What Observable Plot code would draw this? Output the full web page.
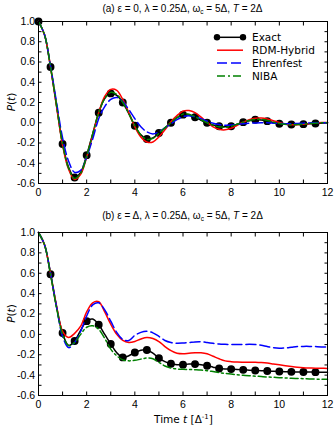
<!DOCTYPE html>
<html><head><meta charset="utf-8">
<script src="https://cdn.jsdelivr.net/npm/d3@7"></script>
<script src="https://cdn.jsdelivr.net/npm/@observablehq/plot@0.6"></script>
<style>
body{margin:0;background:#fff;}
#chart{position:relative;width:334px;height:426px;overflow:hidden;}
#chart svg{display:block;overflow:visible;}
</style></head><body><div id="chart"></div>
<script>
// time grid (Δ^-1)
const tGrid = [0,0.25,0.5,0.75,1,1.25,1.5,1.75,2,2.25,2.5,2.75,3,3.25,3.5,3.75,4,4.25,4.5,4.75,5,5.25,5.5,5.75,6,6.25,6.5,6.75,7,7.25,7.5,7.75,8,8.25,8.5,8.75,9,9.25,9.5,9.75,10,10.25,10.5,10.75,11,11.25,11.5,11.75,12];

// panel (a)
const exactA = [1,0.87,0.55,0.17,-0.21,-0.44,-0.54,-0.49,-0.32,-0.11,0.10,0.24,0.29,0.27,0.20,0.09,-0.03,-0.12,-0.16,-0.15,-0.10,-0.05,0.0,0.05,0.08,0.075,0.055,0.025,0.0,-0.022,-0.035,-0.04,-0.035,-0.015,0.006,0.02,0.03,0.028,0.016,0.003,-0.01,-0.015,-0.017,-0.016,-0.014,-0.01,-0.007,-0.004,-0.002];
const rdmA = [1,0.87,0.55,0.16,-0.22,-0.46,-0.56,-0.51,-0.34,-0.12,0.10,0.26,0.33,0.32,0.23,0.10,-0.04,-0.14,-0.19,-0.19,-0.14,-0.07,0.01,0.07,0.115,0.12,0.10,0.055,0.005,-0.04,-0.065,-0.07,-0.055,-0.025,0.005,0.03,0.045,0.047,0.038,0.02,0.002,-0.013,-0.02,-0.02,-0.015,-0.008,-0.002,0.002,0.003];
const ehrA = [1,0.87,0.56,0.20,-0.15,-0.38,-0.49,-0.47,-0.34,-0.16,0.04,0.16,0.23,0.25,0.21,0.13,0.04,-0.04,-0.09,-0.11,-0.09,-0.05,-0.01,0.03,0.06,0.07,0.06,0.04,0.015,-0.005,-0.018,-0.024,-0.022,-0.016,-0.01,-0.005,-0.002,0.0,-0.001,-0.004,-0.007,-0.009,-0.009,-0.007,-0.004,-0.002,0.0,0.001,0.001];
const nibaA = [1,0.87,0.55,0.17,-0.21,-0.45,-0.55,-0.50,-0.33,-0.11,0.10,0.24,0.30,0.28,0.20,0.09,-0.03,-0.12,-0.165,-0.155,-0.105,-0.05,0.0,0.05,0.085,0.085,0.06,0.03,0.0,-0.025,-0.04,-0.045,-0.035,-0.015,0.006,0.022,0.033,0.033,0.022,0.006,-0.008,-0.016,-0.02,-0.018,-0.013,-0.008,-0.004,-0.001,0.0];
const markersA = [0,0.5,1,1.5,2,2.5,3,3.5,4,4.5,5,5.5,6,6.5,7,7.5,8,8.5,9,9.5,10,10.5,11,11.5];

// panel (b)
const exactB = [1,0.88,0.59,0.27,0.013,-0.11,-0.065,0.04,0.13,0.15,0.095,0.0,-0.095,-0.18,-0.226,-0.21,-0.178,-0.155,-0.154,-0.185,-0.233,-0.268,-0.289,-0.297,-0.297,-0.292,-0.292,-0.298,-0.308,-0.322,-0.335,-0.34,-0.341,-0.344,-0.348,-0.351,-0.354,-0.357,-0.36,-0.362,-0.364,-0.366,-0.368,-0.369,-0.37,-0.37,-0.371,-0.371,-0.372];
const rdmB = [1,0.88,0.60,0.28,0.03,-0.03,0.01,0.08,0.22,0.31,0.32,0.22,0.10,0.0,-0.06,-0.08,-0.07,-0.045,-0.03,-0.04,-0.07,-0.12,-0.16,-0.185,-0.19,-0.185,-0.18,-0.18,-0.19,-0.215,-0.24,-0.26,-0.268,-0.272,-0.273,-0.273,-0.274,-0.277,-0.282,-0.29,-0.298,-0.307,-0.315,-0.322,-0.327,-0.33,-0.332,-0.333,-0.334];
const ehrB = [1,0.88,0.60,0.27,-0.02,-0.13,-0.08,0.03,0.18,0.29,0.31,0.24,0.13,0.02,-0.05,-0.06,-0.01,0.02,0.03,0.015,-0.02,-0.06,-0.08,-0.087,-0.085,-0.08,-0.074,-0.073,-0.08,-0.088,-0.095,-0.098,-0.1,-0.1,-0.1,-0.098,-0.1,-0.107,-0.12,-0.13,-0.135,-0.134,-0.127,-0.12,-0.118,-0.118,-0.12,-0.123,-0.125];
const nibaB = [1,0.88,0.59,0.26,0.0,-0.11,-0.08,0.0,0.07,0.085,0.05,-0.04,-0.145,-0.21,-0.25,-0.26,-0.255,-0.243,-0.232,-0.24,-0.275,-0.31,-0.33,-0.34,-0.343,-0.345,-0.347,-0.35,-0.356,-0.365,-0.375,-0.383,-0.39,-0.396,-0.401,-0.406,-0.41,-0.414,-0.418,-0.421,-0.425,-0.428,-0.431,-0.433,-0.435,-0.437,-0.439,-0.44,-0.441];
const markersB = [0.5,1,1.5,2,2.5,3,3.5,4,4.5,5,5.5,6,6.5,7,7.5,8,8.5,9,9.5,10,10.5,11,11.5];

// axes ticks
const xTicks = [0,1,2,3,4,5,6,7,8,9,10,11,12];
const xTickLabels = ["0","","2","","4","","6","","8","","10","","12"];
const yTicks = [-0.6,-0.5,-0.4,-0.3,-0.2,-0.1,0,0.1,0.2,0.3,0.4,0.5,0.6,0.7,0.8,0.9,1.0];
const yTickLabels = ["-0.6","","-0.4","","-0.2","","0.0","","0.2","","0.4","","0.6","","0.8","","1.0"];

// legend
const legendNames = ["Exact","RDM-Hybrid","Ehrenfest","NIBA"];
const colors = ["#000000","#ff0000","#0000ff","#008000"];
const dashes = [null,null,"10,4","8,3,2,3"];

const xFmt = new Map(xTicks.map((v,i)=>[v,xTickLabels[i]]));
const yFmt = new Map(yTicks.map((v,i)=>[v,yTickLabels[i]]));
const SANS = "DejaVu Sans";
const TFONT = "Liberation Sans";

function rows(vals){ return tGrid.map((t,i)=>({t, p: vals[i]})); }

function panel({series, markers, height, marginTop, marginBottom}) {
  const ex = rows(series[0]);
  const pts = ex.filter(d => markers.includes(d.t));
  const lineMarks = series.slice(1).map((s,k) => Plot.line(rows(s), {
    x:"t", y:"p", stroke: colors[k+1], strokeWidth: 1.5, strokeDasharray: dashes[k+1], curve:"catmull-rom"
  }));
  return Plot.plot({
    width: 334, height, marginLeft: 38, marginRight: 7, marginTop, marginBottom,
    style: {fontFamily: TFONT, fontSize: "10.5px", color: "black", background: "white", overflow: "visible"},
    x: {domain: [0,12]},
    y: {domain: [-0.6, 1.0]},
    marks: [
      Plot.axisX({anchor:"bottom", ticks: xTicks, tickSize: -3.5, tickPadding: 8.8, tickFormat: d => xFmt.get(d), label: null}),
      Plot.axisX({anchor:"top", ticks: xTicks, tickSize: -3.5, tickFormat: () => "", label: null}),
      Plot.axisY({anchor:"left", ticks: yTicks, tickSize: -3.5, tickPadding: 6.8, tickFormat: d => yFmt.get(d), label: null}),
      Plot.axisY({anchor:"right", ticks: yTicks, tickSize: -3.5, tickFormat: () => "", label: null}),
      Plot.line(ex, {x:"t", y:"p", stroke: colors[0], strokeWidth: 1.5, curve:"catmull-rom"}),
      Plot.dot(pts, {x:"t", y:"p", r: 3.2, fill: colors[0], stroke: colors[0]}),
      ...lineMarks,
      Plot.frame({stroke: "black", strokeWidth: 1})
    ]
  });
}

function addTitle(svg, x, y, letter, eps) {
  const t = d3.select(svg).append("text").attr("x", x).attr("y", y).attr("text-anchor","middle")
    .style("font-family", TFONT).style("font-size","10px").attr("fill","black");
  t.append("tspan").text(`(${letter}) ε = ${eps}, λ = 0.25Δ, ω`);
  t.append("tspan").attr("font-size","6.5px").attr("dy", 2).text("c");
  t.append("tspan").attr("dy", -2).text(" = 5Δ, ");
  t.append("tspan").attr("font-style","italic").text("T");
  t.append("tspan").text(" = 2Δ");
}
function addYLabel(svg, cy) {
  const t = d3.select(svg).append("text").attr("transform", `translate(15,${cy}) rotate(-90)`).attr("text-anchor","middle")
    .style("font-family", SANS).style("font-size","10.5px").attr("fill","black");
  t.append("tspan").attr("font-style","italic").text("P");
  t.append("tspan").text("(");
  t.append("tspan").attr("font-style","italic").text("t");
  t.append("tspan").text(")");
}

const chart = document.getElementById("chart");

// top panel: svg 0..205
const topH = 205, topMT = 21, topMB = 22;
const svgA = panel({series:[exactA, rdmA, ehrA, nibaA], markers: markersA, height: topH, marginTop: topMT, marginBottom: topMB});
chart.appendChild(svgA);
addTitle(svgA, 182.5, 11.5, "a", "0");
addYLabel(svgA, (topMT + topH - topMB)/2);

// legend
{
  const g = d3.select(svgA).append("g").style("font-family", SANS).style("font-size","10.5px");
  legendNames.forEach((name, i) => {
    const y = 37.3 + i*12.9;
    g.append("line").attr("x1",217).attr("x2",243).attr("y1",y).attr("y2",y)
      .attr("stroke", colors[i]).attr("stroke-width",1.5).attr("stroke-dasharray", dashes[i]);
    if (i === 0) {
      g.append("circle").attr("cx",217).attr("cy",y).attr("r",3.2).attr("fill",colors[i]);
      g.append("circle").attr("cx",243).attr("cy",y).attr("r",3.2).attr("fill",colors[i]);
    }
    g.append("text").attr("x",252).attr("y",y+3.8).attr("text-anchor","start").attr("fill","black").text(name);
  });
}

// bottom panel: svg 205..426
const botH = 221, botMT = 27, botMB = 31;
const svgB = panel({series:[exactB, rdmB, ehrB, nibaB], markers: markersB, height: botH, marginTop: botMT, marginBottom: botMB});
chart.appendChild(svgB);
addTitle(svgB, 182.5, 14, "b", "Δ");
addYLabel(svgB, (botMT + botH - botMB)/2);
{
  const t = d3.select(svgB).append("text").attr("x", 183.5).attr("y", 217.5).attr("text-anchor","middle")
    .style("font-family", SANS).style("font-size","10.5px").attr("fill","black");
  t.append("tspan").text("Time ");
  t.append("tspan").attr("font-style","italic").text("t");
  t.append("tspan").text(" [Δ");
  t.append("tspan").attr("font-size","7px").attr("dy",-4).text("-1");
  t.append("tspan").attr("dy",4).text("]");
}
</script>
</body></html>
